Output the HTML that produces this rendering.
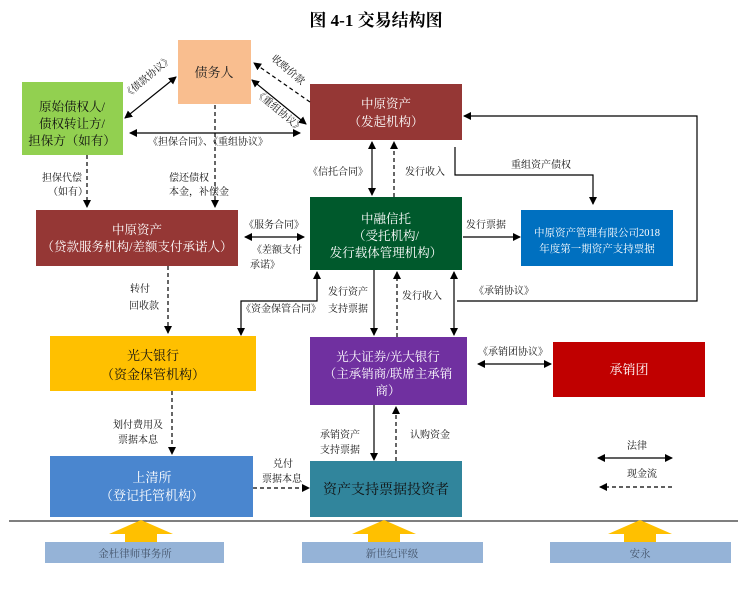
<!DOCTYPE html>
<html><head><meta charset="utf-8"><style>
html,body{margin:0;padding:0;background:#fff;}
svg{display:block;}
text{font-family:"Liberation Serif","Noto Serif CJK SC",serif;}
</style></head><body>
<svg width="752" height="592" viewBox="0 0 752 592" xmlns="http://www.w3.org/2000/svg">
<defs>
<marker id="a" markerWidth="8" markerHeight="8" refX="7" refY="4" orient="auto-start-reverse" markerUnits="userSpaceOnUse"><path d="M0,0 L8,4 L0,8 z" fill="#000"/></marker>
</defs>
<text x="376" y="26" font-size="17" font-weight="bold" text-anchor="middle">图 4-1  交易结构图</text>

<rect x="178" y="40" width="73" height="64" fill="#F9BE8F"/>
<text x="214" y="77" font-size="13" text-anchor="middle" fill="#222">债务人</text>

<rect x="22" y="82" width="101" height="73" fill="#92D050"/>
<g font-size="12.5" fill="#111"><text x="72" y="111" text-anchor="middle">原始债权人/</text><text x="72" y="128" text-anchor="middle">债权转让方/</text><text x="72" y="145" text-anchor="middle">担保方（如有）</text></g>

<rect x="310" y="84" width="152" height="56" fill="#953735"/>
<g font-size="12.5" fill="#fff"><text x="386" y="108" text-anchor="middle">中原资产</text><text x="386" y="126" text-anchor="middle">（发起机构）</text></g>

<rect x="36" y="210" width="202" height="56" fill="#953735"/>
<g font-size="12.5" fill="#fff"><text x="137" y="234" text-anchor="middle">中原资产</text><text x="137" y="251" text-anchor="middle">（贷款服务机构/差额支付承诺人）</text></g>

<rect x="310" y="197" width="152" height="73" fill="#00592C"/>
<g font-size="12.5" fill="#fff"><text x="386" y="223" text-anchor="middle">中融信托</text><text x="386" y="240" text-anchor="middle">（受托机构/</text><text x="386" y="257" text-anchor="middle">发行载体管理机构）</text></g>

<rect x="521" y="210" width="152" height="56" fill="#0070C0"/>
<g font-size="10.5" fill="#fff"><text x="597" y="236" text-anchor="middle">中原资产管理有限公司2018</text><text x="597" y="252" text-anchor="middle">年度第一期资产支持票据</text></g>

<rect x="50" y="336" width="206" height="55" fill="#FFC000"/>
<g font-size="13" fill="#111"><text x="153" y="360" text-anchor="middle">光大银行</text><text x="153" y="379" text-anchor="middle">（资金保管机构）</text></g>

<rect x="310" y="337" width="157" height="68" fill="#7030A0"/>
<g font-size="12.5" fill="#fff"><text x="388" y="361" text-anchor="middle">光大证券/光大银行</text><text x="388" y="378" text-anchor="middle">（主承销商/联席主承销</text><text x="388" y="395" text-anchor="middle">商）</text></g>

<rect x="553" y="342" width="152" height="55" fill="#C00000"/>
<text x="629" y="374" font-size="13" text-anchor="middle" fill="#fff">承销团</text>

<rect x="50" y="456" width="203" height="61" fill="#4A86CF"/>
<g font-size="13" fill="#fff"><text x="152" y="482" text-anchor="middle">上清所</text><text x="152" y="500" text-anchor="middle">（登记托管机构）</text></g>

<rect x="310" y="461" width="152" height="56" fill="#31859C"/>
<text x="386" y="494" font-size="14" text-anchor="middle" fill="#111">资产支持票据投资者</text>

<line x1="9" y1="521" x2="738" y2="521" stroke="#555" stroke-width="1.5"/>
<g fill="#FFC000">
<path d="M109,534 L141,520 L173,534 L157,534 L157,542 L125,542 L125,534 z"/>
<path d="M352,534 L384,520 L416,534 L400,534 L400,542 L368,542 L368,534 z"/>
<path d="M608,534 L640,520 L672,534 L656,534 L656,542 L624,542 L624,534 z"/>
</g>
<g fill="#95B3D7"><rect x="45" y="542" width="179" height="21"/><rect x="302" y="542" width="181" height="21"/><rect x="550" y="542" width="181" height="21"/></g>
<g font-size="10.5" fill="#44546A" text-anchor="middle"><text x="135" y="557">金杜律师事务所</text><text x="392" y="557">新世纪评级</text><text x="640" y="557">安永</text></g>

<g stroke="#000" stroke-width="1.2" fill="none">
<line x1="176" y1="77" x2="125" y2="118" marker-start="url(#a)" marker-end="url(#a)"/>
<line x1="252" y1="80" x2="306" y2="124" marker-start="url(#a)" marker-end="url(#a)"/>
<line x1="310" y1="102" x2="254" y2="63" stroke-dasharray="4,3" marker-end="url(#a)"/>
<line x1="130" y1="133" x2="300" y2="133" marker-start="url(#a)" marker-end="url(#a)"/>
<line x1="215" y1="105" x2="215" y2="207" stroke-dasharray="4,3" marker-end="url(#a)"/>
<line x1="87" y1="155" x2="87" y2="207" stroke-dasharray="4,3" marker-end="url(#a)"/>
<line x1="245" y1="237" x2="304" y2="237" marker-start="url(#a)" marker-end="url(#a)"/>
<line x1="372" y1="142" x2="372" y2="195" marker-start="url(#a)" marker-end="url(#a)"/>
<line x1="394" y1="197" x2="394" y2="142" stroke-dasharray="4,3" marker-end="url(#a)"/>
<polyline points="455,147 455,175 593,175 593,204" marker-end="url(#a)"/>
<line x1="463" y1="237" x2="520" y2="237" marker-end="url(#a)"/>
<line x1="168" y1="266" x2="168" y2="333" stroke-dasharray="4,3" marker-end="url(#a)"/>
<polyline points="317,272 317,301 241,301 241,335" marker-start="url(#a)" marker-end="url(#a)"/>
<line x1="374" y1="270" x2="374" y2="335" marker-end="url(#a)"/>
<line x1="397" y1="337" x2="397" y2="272" stroke-dasharray="4,3" marker-end="url(#a)"/>
<line x1="454" y1="272" x2="454" y2="335" marker-start="url(#a)" marker-end="url(#a)"/>
<polyline points="457,301 697,301 697,116 464,116" marker-end="url(#a)"/>
<line x1="478" y1="364" x2="551" y2="364" marker-start="url(#a)" marker-end="url(#a)"/>
<line x1="172" y1="391" x2="172" y2="454" stroke-dasharray="4,3" marker-end="url(#a)"/>
<line x1="374" y1="405" x2="374" y2="460" marker-end="url(#a)"/>
<line x1="396" y1="461" x2="396" y2="407" stroke-dasharray="4,3" marker-end="url(#a)"/>
<line x1="253" y1="488" x2="309" y2="488" stroke-dasharray="4,3" marker-end="url(#a)"/>
<line x1="598" y1="458" x2="672" y2="458" marker-start="url(#a)" marker-end="url(#a)"/>
<line x1="672" y1="487" x2="600" y2="487" stroke-dasharray="4,3" marker-end="url(#a)"/>
</g>

<g font-size="10" fill="#111">
<text x="148" y="80" text-anchor="middle" transform="rotate(-40 148 77)">《债款协议》</text>
<text x="288" y="73" text-anchor="middle" transform="rotate(40 288 70)">收购价款</text>
<text x="279" y="114" text-anchor="middle" transform="rotate(40 279 111)">《重组协议》</text>
<text x="148" y="145">《担保合同》、《重组协议》</text>
<text x="42" y="181">担保代偿</text>
<text x="48" y="195">（如有）</text>
<text x="169" y="181">偿还债权</text>
<text x="169" y="195">本金，补偿金</text>
<text x="244" y="228">《服务合同》</text>
<text x="252" y="253">《差额支付</text>
<text x="250" y="268">承诺》</text>
<text x="308" y="175">《信托合同》</text>
<text x="405" y="175">发行收入</text>
<text x="511" y="168">重组资产债权</text>
<text x="466" y="228">发行票据</text>
<text x="130" y="292">转付</text>
<text x="129" y="309">回收款</text>
<text x="241" y="312">《资金保管合同》</text>
<text x="328" y="295">发行资产</text>
<text x="328" y="312">支持票据</text>
<text x="402" y="299">发行收入</text>
<text x="474" y="294">《承销协议》</text>
<text x="478" y="355">《承销团协议》</text>
<text x="113" y="428">划付费用及</text>
<text x="118" y="443">票据本息</text>
<text x="320" y="438">承销资产</text>
<text x="320" y="453">支持票据</text>
<text x="410" y="438">认购资金</text>
<text x="273" y="467">兑付</text>
<text x="262" y="482">票据本息</text>
<text x="627" y="449">法律</text>
<text x="627" y="477">现金流</text>
</g>
</svg>
</body></html>
